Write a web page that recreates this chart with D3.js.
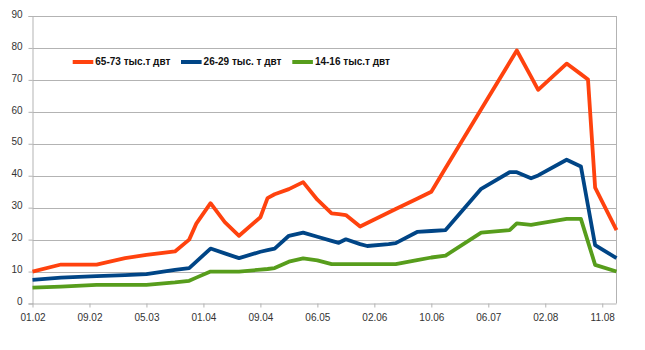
<!DOCTYPE html>
<html>
<head>
<meta charset="utf-8">
<script src="https://cdn.jsdelivr.net/npm/d3@7/dist/d3.min.js"></script>
<style>
  html, body { margin: 0; padding: 0; background: #fff; }
  svg { display: block; font-family: "Liberation Sans", Arial, sans-serif; }
</style>
</head>
<body>
<svg id="chart" width="645" height="350"></svg>
<script>
// Category positions (index of the category on the axis) for each vertex
const catIndex = [0, 4, 9, 13, 16, 20, 22, 23, 25, 27, 29, 32, 33, 34, 36, 38, 40, 42, 43, 44, 46, 47, 50, 51, 54, 56, 58, 63, 67, 68, 70, 71, 75, 77, 78, 79, 82];
const catCount = 83;

// Series values
const seriesRed   = [10, 12.2, 12.2, 14.2, 15.2, 16.3, 20, 25, 31.4, 25.5, 21.2, 27, 33, 34.2, 35.8, 38, 32.5, 28.2, 28, 27.7, 24.1, 25.2, 28.5, 29.6, 32.8, 35, 42.4, 60.8, 75.5, 79.2, 71.0, 66.9, 75.1, 71.8, 70.1, 36.3, 23];
const seriesBlue  = [7.4, 8.1, 8.6, 8.9, 9.2, 10.5, 11.1, 13.1, 17.2, 15.7, 14.2, 16.2, 16.7, 17.2, 21.2, 22.2, 20.9, 19.6, 19.0, 20.1, 18.6, 18.0, 18.6, 18.9, 22.4, 22.7, 23.0, 35.9, 41.1, 41.1, 39.2, 40.1, 45, 42.9, 30.6, 18.3, 14.2];
const seriesGreen = [5, 5.3, 5.8, 5.8, 5.8, 6.6, 7.1, 8.1, 10, 10, 10, 10.6, 10.8, 11.1, 13.1, 14.1, 13.5, 12.3, 12.3, 12.3, 12.3, 12.3, 12.3, 12.3, 13.6, 14.4, 15, 22.2, 23, 25.1, 24.6, 25.0, 26.5, 26.5, 19.3, 12.1, 10];

const seriesNames = ["65-73 тыс.т двт", "26-29 тыс. т двт", "14-16 тыс.т двт"];
const seriesColors = ["#ff420e", "#004586", "#579d1c"];

// Axis labels
const xTickIndex = [0, 8, 16, 24, 32, 40, 48, 56, 64, 72, 80];
const xTickLabels = ["01.02", "09.02", "05.03", "01.04", "09.04", "06.05", "02.06", "10.06", "06.07", "02.08", "11.08"];
const yTicks = [0, 10, 20, 30, 40, 50, 60, 70, 80, 90];

const svg = d3.select("#chart");
const mLeft = 32.5, mRight = 616.5, mTop = 16, mBottom = 303.5;

const x = d3.scaleLinear().domain([0, catCount - 1]).range([mLeft, mRight]);
const y = d3.scaleLinear().domain([0, 90]).range([mBottom, mTop]);

const gridColor = "#b3b3b3";

// Gridlines
svg.append("g").selectAll("line").data(yTicks.filter(d => d > 0)).join("line")
  .attr("x1", mLeft).attr("x2", mRight)
  .attr("y1", d => Math.round(y(d)) + 0.5).attr("y2", d => Math.round(y(d)) + 0.5)
  .attr("stroke", gridColor).attr("stroke-width", 1);

// Right border
svg.append("line")
  .attr("x1", mRight).attr("x2", mRight).attr("y1", mTop).attr("y2", mBottom)
  .attr("stroke", gridColor).attr("stroke-width", 1);

// Y axis
const yAxis = d3.axisLeft(y).tickValues(yTicks).tickSize(4).tickPadding(6);
const gy = svg.append("g").attr("transform", `translate(${mLeft},0)`).call(yAxis);
gy.select(".domain").attr("stroke", gridColor);
gy.selectAll(".tick line").attr("stroke", gridColor);
gy.selectAll(".tick text").attr("fill", "#333").attr("font-size", 10)
  .attr("font-family", "Liberation Sans, Arial, sans-serif").attr("dy", "0.12em");

// X axis
const xAxis = d3.axisBottom(x).tickValues(xTickIndex)
  .tickFormat((d, i) => xTickLabels[i]).tickSize(4).tickPadding(6);
const gx = svg.append("g").attr("transform", `translate(0,${mBottom})`).call(xAxis);
gx.select(".domain").attr("stroke", gridColor).attr("d", `M${mLeft},0.5H${mRight}`);
gx.selectAll(".tick line").attr("stroke", gridColor);
gx.selectAll(".tick text").attr("fill", "#333").attr("font-size", 10)
  .attr("font-family", "Liberation Sans, Arial, sans-serif");

// Lines
const allSeries = [seriesRed, seriesBlue, seriesGreen];
const line = d3.line().x(d => x(d[0])).y(d => y(d[1]));
allSeries.forEach((vals, s) => {
  const pts = catIndex.map((c, i) => [c, vals[i]]);
  svg.append("path").datum(pts)
    .attr("d", line)
    .attr("fill", "none")
    .attr("stroke", seriesColors[s])
    .attr("stroke-width", 3.8)
    .attr("stroke-linejoin", "round");
});

// Legend
const legendX = [72.7, 181, 292.3];
const legendY = 62;
const lg = svg.append("g");
seriesNames.forEach((name, i) => {
  lg.append("rect")
    .attr("x", legendX[i]).attr("y", legendY - 2)
    .attr("width", 20.6).attr("height", 4)
    .attr("fill", seriesColors[i]);
  lg.append("text")
    .attr("x", legendX[i] + 22.6).attr("y", legendY + 2.5)
    .attr("font-size", 10).attr("font-weight", "bold")
    .attr("fill", "#111")
    .text(name);
});
</script>
</body>
</html>
